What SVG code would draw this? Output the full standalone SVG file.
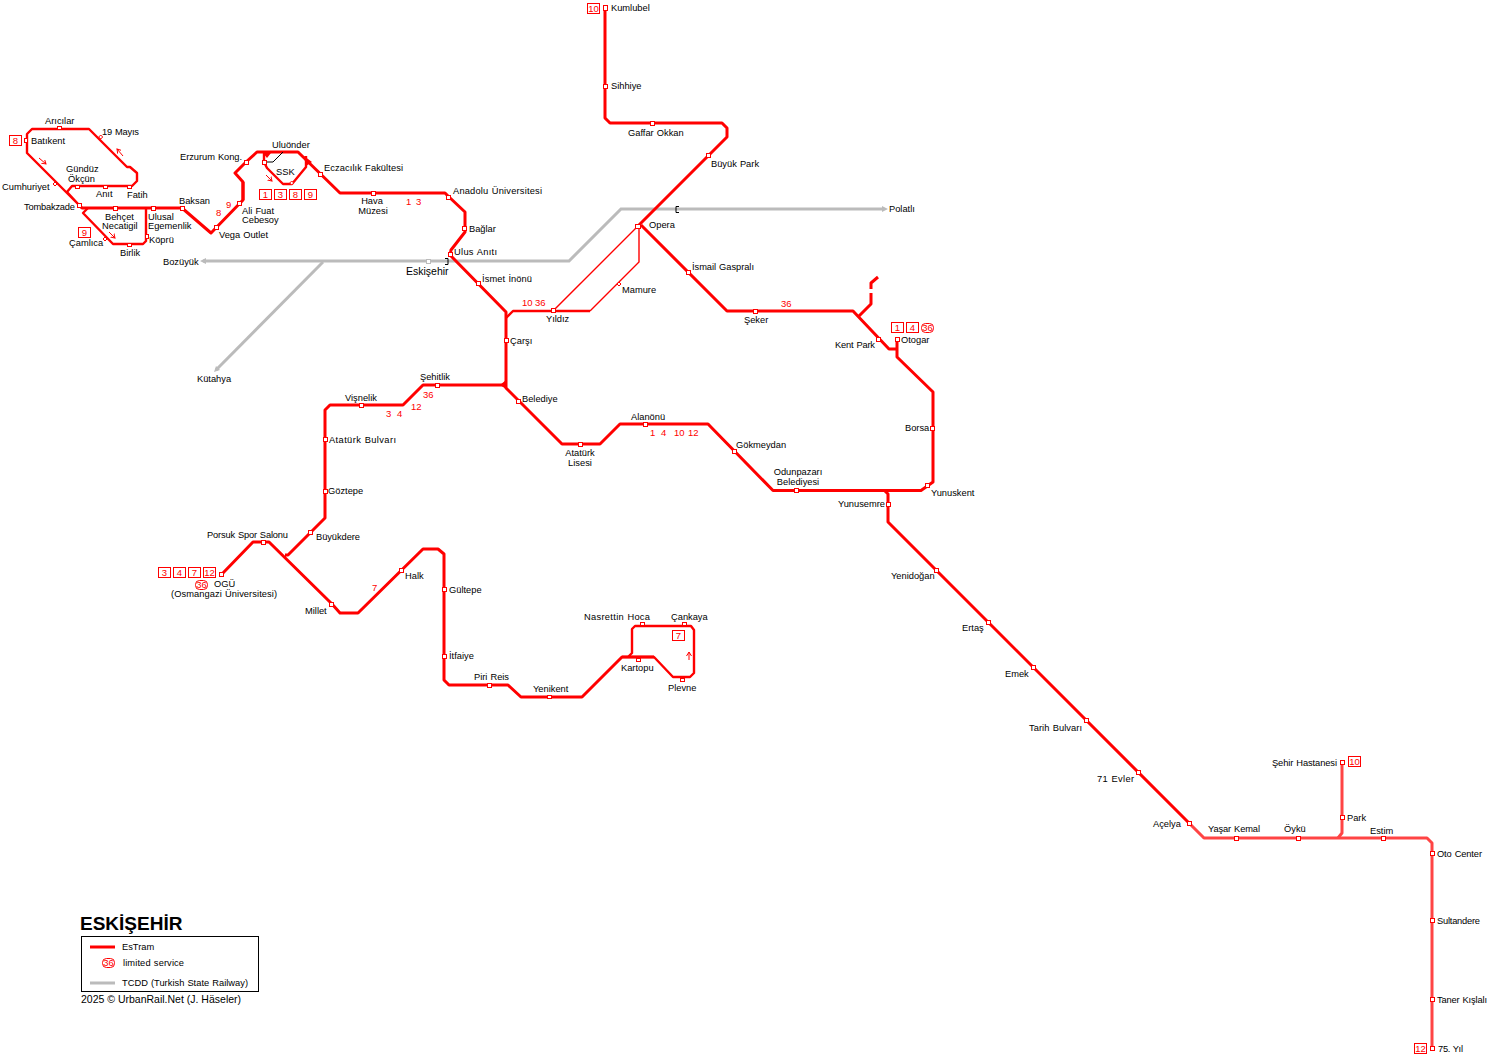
<svg xmlns="http://www.w3.org/2000/svg" width="1490" height="1063" viewBox="0 0 1490 1063">
<style>
text{font-family:"Liberation Sans",Arial,sans-serif;font-size:9.3px;fill:#000;word-spacing:.5px}
.n{fill:#f00;font-size:9.5px;word-spacing:0}
.c{text-anchor:middle}
.l{fill:none;stroke:#f00;stroke-width:3;stroke-linejoin:round}
.m{fill:none;stroke:#f00;stroke-width:2.4;stroke-linejoin:round}
.f{fill:none;stroke:#f00;stroke-width:1.4}
.p{fill:none;stroke:#f44;stroke-width:3;stroke-linejoin:round}
.g{fill:none;stroke:#bbb;stroke-width:3}
.s{fill:#fff;stroke:#f00;stroke-width:1}
.h{fill:#fff;stroke:#f00;stroke-width:1}
.b{fill:#fff;stroke:#f00;stroke-width:1}
.a{fill:none;stroke:#f00;stroke-width:1;marker-end:url(#ah)}
</style>
<defs>
<marker id="ah" markerWidth="6" markerHeight="6" refX="4" refY="3" orient="auto" markerUnits="userSpaceOnUse"><path d="M0 0.5L4 3L0 5.5" fill="none" stroke="#f00" stroke-width="1"/></marker>
</defs>
<g id="connectors">
<path class="g" d="M203 261H569L621 209H884"/>
<path class="g" d="M323 262L216 370"/>
<path d="M200 261l6-3v6z M888 209l-6-3v6z M214 372l2-6 4 4z" fill="#bbb"/>
<path d="M445 258.500h3v6h-3 M679 206.500h-3v6h3" fill="none" stroke="#000" stroke-width="1"/>
<path class="l" d="M605 8V118L610 123H722L727 128V137L638 226"/>
<path class="l" d="M641 225L727 311H853L889 349H897"/>
<path class="l" d="M858 317L871 304V293M871 289V283L878 277"/>
<path class="l" d="M897 340V357L933 392V482L921 490.500H773L708 424H620L600 444H562L506 388V312L450 255L451 250L465 232V212L448 196L445 193H340L298 152H257L246 162L235 173L243 182V200L211 233L182 208H82L79 205"/>
<path class="m" d="M79 205L27 153V134L32 129H89L127 167H130L137 173V181L132 186H72L67 192L79 205"/>
<path class="l" d="M243 182V200" stroke-width="4"/>
<path class="m" d="M88 208L83 213L113 244H143L146 241V209"/>
<path class="m" d="M264 152V162L267 168L283 184H292L306 167V156"/>
<path d="M263 153h8l-4 5z M304 156l8 6-6 4z M500 385l6-5v9z" fill="#f00"/>
<path d="M283 152L273 162H267" fill="none" stroke="#000" stroke-width="1"/>
<path class="m" d="M506 318L513 311H590"/>
<path class="f" d="M553 311L638 226M590 311L639 262V226"/>
<path class="l" d="M506 385H423L403 405H330L325 410V518L288 555H285M222 574L253 542H269L332 604L340 613H358L423 549H438L444 554V680L449 685H508L521 697H582L622 657H654"/>
<path class="m" d="M622 657H654L673 677H690L694 673V630L691 626H635L632 629V653L628 657"/>
<path class="l" d="M885 491L888 494V522L1189 823"/>
<path class="p" d="M1189 823L1204 838H1427L1432 843V1048"/>
<path class="p" d="M1342 762V833L1338 838"/>
<path class="a" d="M39 158L46 164"/>
<path class="a" d="M123 156L117 149"/>
<path class="a" d="M109 232L115 238"/>
<path class="a" d="M266 175L272 181"/>
<path class="a" d="M689 660V652"/>
</g>
<g id="kumlubel"><rect class="s" x="603.500" y="5.500" width="4" height="5"/><text x="611" y="11">Kumlubel</text><rect class="b" x="587.500" y="3.500" width="12" height="10"/><text class="n c" x="593.500" y="12">10</text></g>
<g id="sihhiye"><rect class="s" x="603.500" y="84.500" width="4" height="4"/><text x="611" y="89">Sihhiye</text></g>
<g id="gaffar-okkan"><rect class="s" x="650.500" y="121.500" width="4" height="4"/><text x="628" y="136">Gaffar Okkan</text></g>
<g id="buyuk-park"><rect class="s" x="706.500" y="153.500" width="4" height="4"/><text x="711" y="167">Büyük Park</text></g>
<g id="opera"><rect class="s" x="635.500" y="224.500" width="5" height="4"/><text x="649" y="228">Opera</text></g>
<g id="ismail-gaspirali"><rect class="s" x="686.500" y="270.500" width="4" height="4"/><text x="692" y="270" textLength="62">İsmail Gaspralı</text></g>
<g id="seker"><rect class="s" x="753.500" y="309.500" width="4" height="4"/><text x="744" y="323">Şeker</text></g>
<g id="kent-park"><rect class="s" x="876.500" y="337.500" width="4" height="4"/><text x="835" y="348" textLength="40">Kent Park</text></g>
<g id="otogar"><rect class="s" x="895.500" y="337.500" width="4" height="4"/><text x="901" y="343">Otogar</text>
<rect class="b" x="891.500" y="322.500" width="12" height="10"/><text class="n c" x="897.500" y="331">1</text><rect class="b" x="906.500" y="322.500" width="12" height="10"/><text class="n c" x="912.500" y="331">4</text><rect class="b" x="921.500" y="323.500" width="12" height="9" rx="4"/><text class="n c" x="927.500" y="331">36</text></g>
<g id="borsa"><rect class="s" x="930.500" y="426.500" width="4" height="4"/><text x="905" y="431">Borsa</text></g>
<g id="yunuskent"><rect class="s" x="925.500" y="483.500" width="4" height="4"/><text x="931" y="496">Yunuskent</text></g>
<g id="odunpazari"><rect class="s" x="794.500" y="488.500" width="4" height="4"/><text class="c" x="798" y="475">Odunpazarı</text><text class="c" x="798" y="485">Belediyesi</text></g>
<g id="yunusemre"><rect class="s" x="886.500" y="502.500" width="4" height="4"/><text x="838" y="507" textLength="47">Yunusemre</text></g>
<g id="gokmeydan"><rect class="s" x="732.500" y="449.500" width="4" height="4"/><text x="736" y="448">Gökmeydan</text></g>
<g id="alanonu"><rect class="s" x="643.500" y="422.500" width="4" height="4"/><text x="631" y="420">Alanönü</text></g>
<g id="ataturk-lisesi"><rect class="s" x="578.500" y="442.500" width="4" height="4"/><text class="c" x="580" y="456">Atatürk</text><text class="c" x="580" y="466">Lisesi</text></g>
<g id="belediye"><rect class="s" x="516.500" y="399.500" width="4" height="4"/><text x="522" y="402">Belediye</text></g>
<g id="carsi"><rect class="s" x="504.500" y="338.500" width="4" height="4"/><text x="510" y="344">Çarşı</text></g>
<g id="ismet-inonu"><rect class="s" x="476.500" y="281.500" width="4" height="4"/><text x="482" y="282" textLength="50">İsmet İnönü</text></g>
<g id="ulus-aniti"><rect class="s" x="448.500" y="252.500" width="4" height="4"/><text x="454" y="255" textLength="43">Ulus Anıtı</text></g>
<g id="baglar"><rect class="s" x="462.500" y="226.500" width="4" height="4"/><text x="469" y="232">Bağlar</text></g>
<g id="anadolu"><rect class="s" x="446.500" y="195.500" width="4" height="4"/><text x="453" y="194" textLength="89">Anadolu Üniversitesi</text></g>
<g id="eskisehir"><rect x="426.500" y="259.500" width="4" height="4" fill="#fff" stroke="#bbb"/><text x="406" y="275" style="font-size:10.500px">Eskişehir</text></g>
<g id="bozuyuk"><text x="163" y="265">Bozüyük</text></g>
<g id="polatli"><text x="889" y="212">Polatlı</text></g>
<g id="kutahya"><text x="197" y="382">Kütahya</text></g>
<g id="hava-muzesi"><rect class="s" x="371.500" y="191.500" width="4" height="4"/><text class="c" x="372" y="204">Hava</text><text class="c" x="373" y="214">Müzesi</text></g>
<g id="eczacilik"><rect class="s" x="318.500" y="172.500" width="4" height="4"/><text x="324" y="171" textLength="79">Eczacılık Fakültesi</text></g>
<g id="uluonder"><rect class="s" x="262.500" y="160.500" width="4" height="4"/><text x="272" y="148">Uluönder</text></g>
<g id="ssk"><path class="h" d="M291.700 181l2 2-2 2-2-2z"/><text x="276" y="175">SSK</text><rect class="b" x="259.500" y="189.500" width="12" height="10"/><text class="n c" x="265.500" y="198">1</text><rect class="b" x="274.500" y="189.500" width="12" height="10"/><text class="n c" x="280.500" y="198">3</text><rect class="b" x="289.500" y="189.500" width="12" height="10"/><text class="n c" x="295.500" y="198">8</text><rect class="b" x="304.500" y="189.500" width="12" height="10"/><text class="n c" x="310.500" y="198">9</text></g>
<g id="erzurum-kong"><rect class="s" x="244.500" y="160.500" width="4" height="4"/><text x="180" y="160" textLength="62">Erzurum Kong.</text></g>
<g id="ali-fuat"><rect class="s" x="237.500" y="201.500" width="4" height="4"/><text x="242" y="214">Ali Fuat</text><text x="242" y="223">Cebesoy</text></g>
<g id="vega-outlet"><rect class="s" x="214.500" y="225.500" width="4" height="4"/><text x="219" y="238" textLength="49">Vega Outlet</text></g>
<g id="baksan"><rect class="s" x="180.500" y="206.500" width="4" height="4"/><text x="179" y="204">Baksan</text></g>
<g id="ulusal"><rect class="s" x="151.500" y="206.500" width="4" height="4"/><text x="148" y="220">Ulusal</text><text x="148" y="229">Egemenlik</text></g>
<g id="behcet"><rect class="s" x="113.500" y="206.500" width="4" height="4"/><text x="105" y="219.500">Behçet</text><text x="102" y="229">Necatigil</text></g>
<g id="tombakzade"><rect class="s" x="77.500" y="203.500" width="4" height="4"/><text x="24" y="210" textLength="51">Tombakzade</text></g>
<g id="batikent"><rect class="s" x="24.500" y="138.500" width="3" height="4"/><text x="31" y="144">Batıkent</text><rect class="b" x="9.500" y="135.500" width="12" height="10"/><text class="n c" x="15.500" y="144">8</text></g>
<g id="aricilar"><rect class="s" x="57.500" y="126.500" width="4" height="3"/><text x="45" y="124">Arıcılar</text></g>
<g id="mayis19"><path class="h" d="M100.700 135l2 2-2 2-2-2z"/><text x="102" y="135" textLength="37">19 Mayıs</text></g>
<g id="gunduz"><rect class="s" x="75.500" y="185.500" width="4" height="3"/><text x="66" y="172">Gündüz</text><text x="68" y="182">Ökçün</text></g>
<g id="anit"><rect class="s" x="103.500" y="185.500" width="4" height="3"/><text x="96" y="197">Anıt</text></g>
<g id="fatih"><rect class="s" x="127.500" y="185.500" width="4" height="3"/><text x="127" y="198">Fatih</text></g>
<g id="cumhuriyet"><path class="h" d="M55 182l2 2-2 2-2-2z"/><text x="2" y="190">Cumhuriyet</text></g>
<g id="camlica"><path class="h" d="M105 237l2 2-2 2-2-2z"/><text x="69" y="246">Çamlıca</text><rect class="b" x="78.500" y="227.500" width="12" height="10"/><text class="n c" x="84.500" y="236">9</text></g>
<g id="birlik"><rect class="s" x="127.500" y="243.500" width="4" height="3"/><text x="120" y="256">Birlik</text></g>
<g id="kopru"><rect class="s" x="145.500" y="234.500" width="3" height="4"/><text x="149" y="243">Köprü</text></g>
<g id="yildiz"><rect class="s" x="551.500" y="308.500" width="4" height="4"/><text x="546" y="322">Yıldız</text></g>
<g id="mamure"><path class="h" d="M619 282l2 2-2 2-2-2z"/><text x="622" y="293">Mamure</text></g>
<g id="sehitlik"><rect class="s" x="435.500" y="383.500" width="4" height="4"/><text x="420" y="380">Şehitlik</text></g>
<g id="visnelik"><rect class="s" x="359.500" y="403.500" width="4" height="4"/><text x="345" y="401">Vişnelik</text></g>
<g id="ataturk-bulvari"><rect class="s" x="323.500" y="437.500" width="4" height="4"/><text x="329" y="443" textLength="67">Atatürk Bulvarı</text></g>
<g id="goztepe"><rect class="s" x="323.500" y="489.500" width="4" height="4"/><text x="328" y="494">Göztepe</text></g>
<g id="buyukdere"><rect class="s" x="308.500" y="530.500" width="4" height="4"/><text x="316" y="540" textLength="44">Büyükdere</text></g>
<g id="porsuk"><rect class="s" x="261.500" y="540.500" width="4" height="4"/><text x="207" y="538" textLength="81">Porsuk Spor Salonu</text></g>
<g id="ogu"><rect class="s" x="219.500" y="572.500" width="4" height="4"/><text x="214" y="587">OGÜ</text><text x="171" y="597" textLength="106">(Osmangazi Üniversitesi)</text>
<rect class="b" x="158.500" y="567.500" width="12" height="10"/><text class="n c" x="164.500" y="576">3</text><rect class="b" x="173.500" y="567.500" width="12" height="10"/><text class="n c" x="179.500" y="576">4</text><rect class="b" x="188.500" y="567.500" width="12" height="10"/><text class="n c" x="194.500" y="576">7</text><rect class="b" x="203.500" y="567.500" width="12" height="10"/><text class="n c" x="209.500" y="576">12</text><rect class="b" x="195.500" y="580.500" width="12" height="9" rx="4"/><text class="n c" x="201.500" y="588">36</text></g>
<g id="millet"><rect class="s" x="329.500" y="602.500" width="4" height="4"/><text x="305" y="614">Millet</text></g>
<g id="halk"><rect class="s" x="399.500" y="568.500" width="4" height="4"/><text x="405" y="579">Halk</text></g>
<g id="gultepe"><rect class="s" x="442.500" y="587.500" width="4" height="4"/><text x="449" y="593">Gültepe</text></g>
<g id="itfaiye"><rect class="s" x="442.500" y="654.500" width="4" height="4"/><text x="449" y="659">İtfaiye</text></g>
<g id="piri-reis"><rect class="s" x="487.500" y="683.500" width="4" height="4"/><text x="474" y="680" textLength="35">Piri Reis</text></g>
<g id="yenikent"><rect class="s" x="547.500" y="695.500" width="4" height="3"/><text x="533" y="692">Yenikent</text></g>
<g id="kartopu"><rect class="s" x="636.500" y="658.500" width="4" height="3"/><text x="621" y="671">Kartopu</text></g>
<g id="nasrettin"><rect class="s" x="640.500" y="622.500" width="4" height="3"/><text x="584" y="620" textLength="66">Nasrettin Hoca</text></g>
<g id="cankaya"><rect class="s" x="682.500" y="622.500" width="4" height="3"/><text x="671" y="620">Çankaya</text><rect class="b" x="672.500" y="630.500" width="12" height="10"/><text class="n c" x="678.500" y="639">7</text></g>
<g id="plevne"><rect class="s" x="680.500" y="678.500" width="4" height="3"/><text x="668" y="691">Plevne</text></g>
<g id="yenidogan"><rect class="s" x="934.500" y="568.500" width="4" height="4"/><text x="891" y="579">Yenidoğan</text></g>
<g id="ertas"><rect class="s" x="986.500" y="620.500" width="4" height="4"/><text x="962" y="631">Ertaş</text></g>
<g id="emek"><rect class="s" x="1031.500" y="665.500" width="4" height="4"/><text x="1005" y="677">Emek</text></g>
<g id="tarih-bulvari"><rect class="s" x="1084.500" y="718.500" width="4" height="4"/><text x="1029" y="731" textLength="53">Tarih Bulvarı</text></g>
<g id="evler71"><rect class="s" x="1136.500" y="770.500" width="4" height="4"/><text x="1097" y="782" textLength="37">71 Evler</text></g>
<g id="acelya"><rect class="s" x="1187.500" y="821.500" width="4" height="4"/><text x="1153" y="827">Açelya</text></g>
<g id="yasar-kemal"><rect class="s" x="1234.500" y="836.500" width="4" height="4"/><text x="1208" y="832" textLength="52">Yaşar Kemal</text></g>
<g id="oyku"><rect class="s" x="1296.500" y="836.500" width="4" height="4"/><text x="1284" y="832">Öykü</text></g>
<g id="estim"><rect class="s" x="1381.500" y="836.500" width="4" height="4"/><text x="1370" y="834">Estim</text></g>
<g id="park"><rect class="s" x="1340.500" y="815.500" width="4" height="4"/><text x="1347" y="821">Park</text></g>
<g id="sehir-hastanesi"><rect class="s" x="1340.500" y="760.500" width="4" height="4"/><text x="1272" y="766" textLength="65">Şehir Hastanesi</text><rect class="b" x="1348.500" y="756.500" width="12" height="10"/><text class="n c" x="1354.500" y="765">10</text></g>
<g id="oto-center"><rect class="s" x="1430.500" y="851.500" width="4" height="4"/><text x="1437" y="857" textLength="45">Oto Center</text></g>
<g id="sultandere"><rect class="s" x="1430.500" y="918.500" width="4" height="4"/><text x="1437" y="924" textLength="43">Sultandere</text></g>
<g id="taner-kislali"><rect class="s" x="1430.500" y="997.500" width="4" height="4"/><text x="1437" y="1003" textLength="50">Taner Kışlalı</text></g>
<g id="yil75"><rect class="s" x="1430.500" y="1046.500" width="4" height="4"/><text x="1438" y="1052" textLength="25">75. Yıl</text><rect class="b" x="1414.500" y="1043.500" width="12" height="10"/><text class="n c" x="1420.500" y="1052">12</text></g>
<g id="line-numbers">
<text class="n" x="406" y="205">1</text><text class="n" x="416" y="205">3</text>
<text class="n" x="216" y="216">8</text><text class="n" x="226" y="208">9</text>
<text class="n" x="522" y="306">10</text><text class="n" x="535" y="306">36</text>
<text class="n" x="781" y="307">36</text>
<text class="n" x="423" y="398">36</text><text class="n" x="411" y="410">12</text>
<text class="n" x="386" y="417">3</text><text class="n" x="397" y="417">4</text>
<text class="n" x="650" y="436">1</text><text class="n" x="661" y="436">4</text><text class="n" x="674" y="436">10</text><text class="n" x="688" y="436">12</text>
<text class="n" x="372" y="591">7</text>
</g>
<g id="legend">
<text x="80" y="930" style="font-size:19px;font-weight:bold;word-spacing:0">ESKİŞEHİR</text>
<rect x="81.500" y="936.500" width="177" height="55" fill="#fff" stroke="#000"/>
<path d="M90 947H115" stroke="#f00" stroke-width="3"/>
<text x="122" y="950">EsTram</text>
<rect class="b" x="102.500" y="958.500" width="12" height="9" rx="4"/><text class="n c" x="108.500" y="966">36</text>
<text x="123" y="966" textLength="61">limited service</text>
<path d="M90 983H115" stroke="#bbb" stroke-width="3"/>
<text x="122" y="986" textLength="126">TCDD (Turkish State Railway)</text>
<text x="81" y="1003" style="font-size:10.500px;word-spacing:0">2025 © UrbanRail.Net (J. Häseler)</text>
</g>
</svg>
